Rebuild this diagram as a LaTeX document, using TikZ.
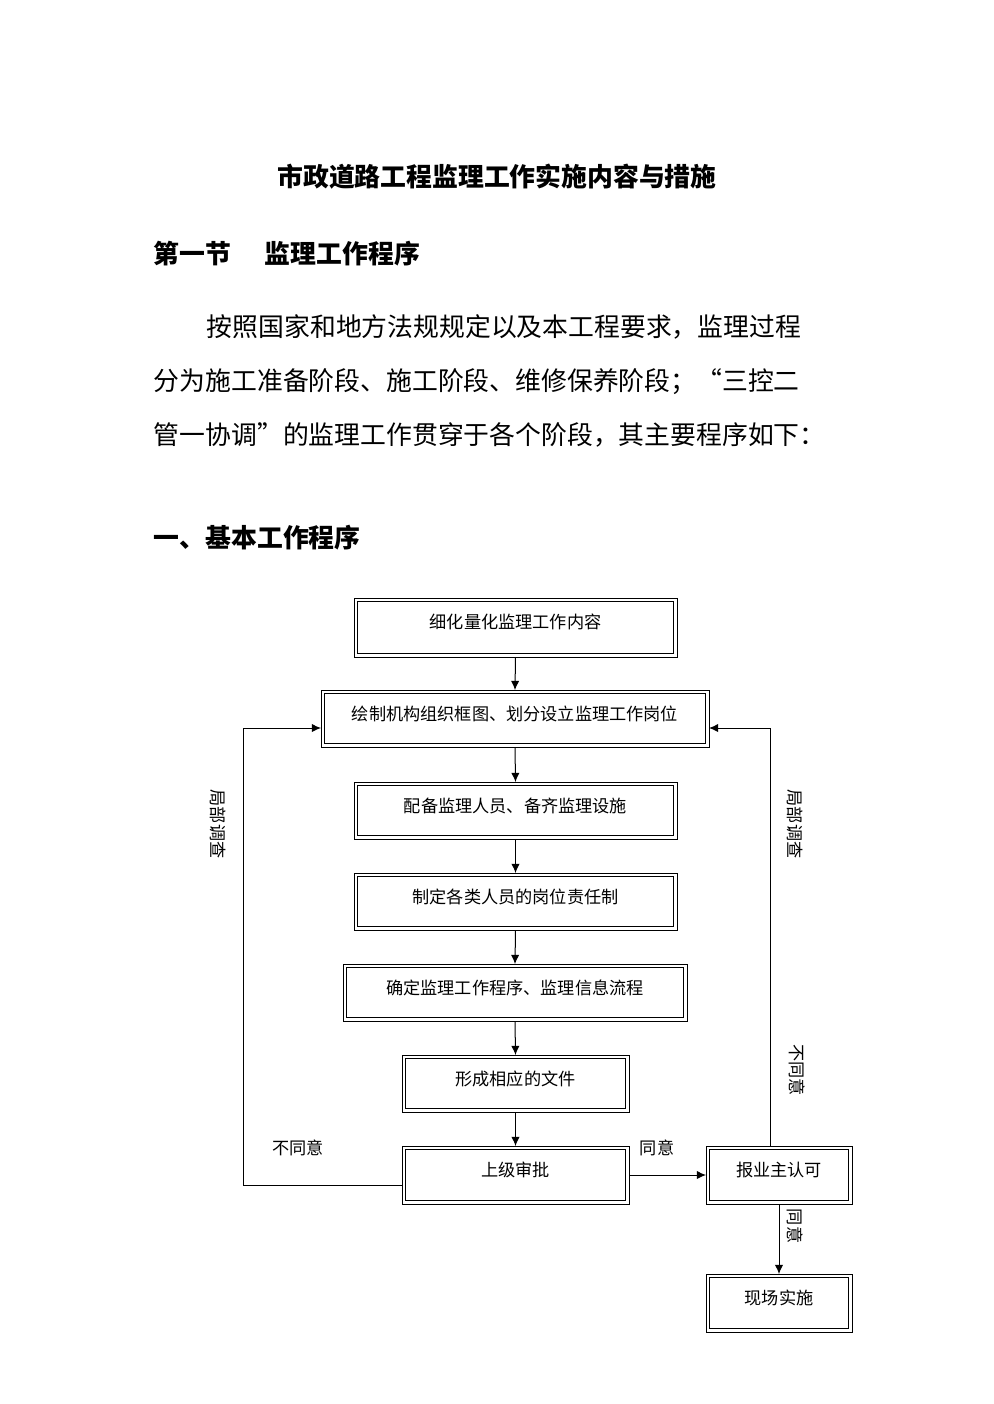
\documentclass[tikz,border=0pt]{standalone}
\usepackage{fontspec}
\newfontfamily\cjk{Noto Sans CJK SC}
\usetikzlibrary{positioning,arrows.meta}
\tikzset{
  box/.style={draw, line width=0.4pt, inner sep=0pt, outer sep=0pt},
  boxin/.style={draw, line width=1.1pt},
  btext/.style={font=\cjk\fontsize{10.3}{12}\selectfont, anchor=center},
  lbl/.style={font=\cjk\fontsize{10.3}{12}\selectfont},
  vlbl/.style={font=\cjk\fontsize{10.3}{12}\selectfont, rotate=-90},
  head/.style={font=\cjk\bfseries\fontsize{15.5}{18}\selectfont, anchor=west},
  body/.style={font=\cjk\fontsize{15.5}{18}\selectfont, anchor=west},
  arr/.style={-{Latex[length=5.5pt,width=5pt]}, line width=0.6pt},
}
% double framed box: name, x1, y1, x2, y2, text
\newcommand{\dbox}[6]{
  \draw[line width=0.4pt] (#2,#3) rectangle (#4,#5);
  \draw[line width=1.1pt] (#2+3.5,#3+3.5) rectangle (#4-3.5,#5-3.5);
  \node[btext] (#1-t) at ({(#2+#4)/2},#3+24) {#6};
  \coordinate (#1-w) at (#2,{(#3+#5)/2});
  \coordinate (#1-e) at (#4,{(#3+#5)/2});
  \coordinate (#1-n) at ({(#2+#4)/2},#3);
  \coordinate (#1-s) at ({(#2+#4)/2},#5);
}
\begin{document}
\begin{tikzpicture}[x=0.6pt, y=-0.6pt]
\useasboundingbox (0,0) rectangle (993,1404);

\node[head, anchor=center] (title) at (497,177) {市政道路工程监理工作实施内容与措施};
\node[head] (sec) at (148,254) {第一节\hspace{1.3em}监理工作程序};
\node[body] (p1) at (201,327) {按照国家和地方法规规定以及本工程要求，监理过程};
\node[body] (p2) at (148,382) {分为施工准备阶段、施工阶段、维修保养阶段；“三控二};
\node[body] (p3) at (148,435) {管一协调”的监理工作贯穿于各个阶段，其主要程序如下：};
\node[head] (sub) at (148,538) {一、基本工作程序};

\dbox{refine}{354}{598}{677}{657}{细化量化监理工作内容}
\dbox{org}{321}{690}{709}{747}{绘制机构组织框图、划分设立监理工作岗位}
\dbox{staff}{354}{782}{677}{839}{配备监理人员、备齐监理设施}
\dbox{duty}{354}{873}{677}{930}{制定各类人员的岗位责任制}
\dbox{proc}{343}{964}{687}{1021}{确定监理工作程序、监理信息流程}
\dbox{docs}{402}{1055}{629}{1112}{形成相应的文件}
\dbox{appr}{402}{1146}{629}{1204}{上级审批}
\dbox{owner}{706}{1146}{852}{1204}{报业主认可}
\dbox{site}{706}{1274}{852}{1332}{现场实施}

\draw[arr] (refine-s) -- (org-n);
\draw[arr] (org-s) -- (staff-n);
\draw[arr] (staff-s) -- (duty-n);
\draw[arr] (duty-s) -- (proc-n);
\draw[arr] (proc-s) -- (docs-n);
\draw[arr] (docs-s) -- (appr-n);
\draw[arr] (appr-e) -- (owner-w);
\draw[arr] (owner-s) -- (site-n);

\coordinate (lb) at (243,1185);
\coordinate (lt) at (243,728);
\coordinate (rt) at (770,728);
\draw[arr] (appr-w |- lb) -- (lb) -- (lt) -- (org-w |- lt);
\draw[arr] (owner-n -| rt) -- (rt) -- (org-e |- rt);

\node[lbl] (n1) at (298,1148) {不同意};
\node[lbl] (y1) at (657,1148) {同意};
\node[vlbl] (c1) at (218,824) {局部调查};
\node[vlbl] (c2) at (795,824) {局部调查};
\node[vlbl] (n2) at (797,1070) {不同意};
\node[vlbl] (y2) at (795,1226) {同意};
\end{tikzpicture}
\end{document}
